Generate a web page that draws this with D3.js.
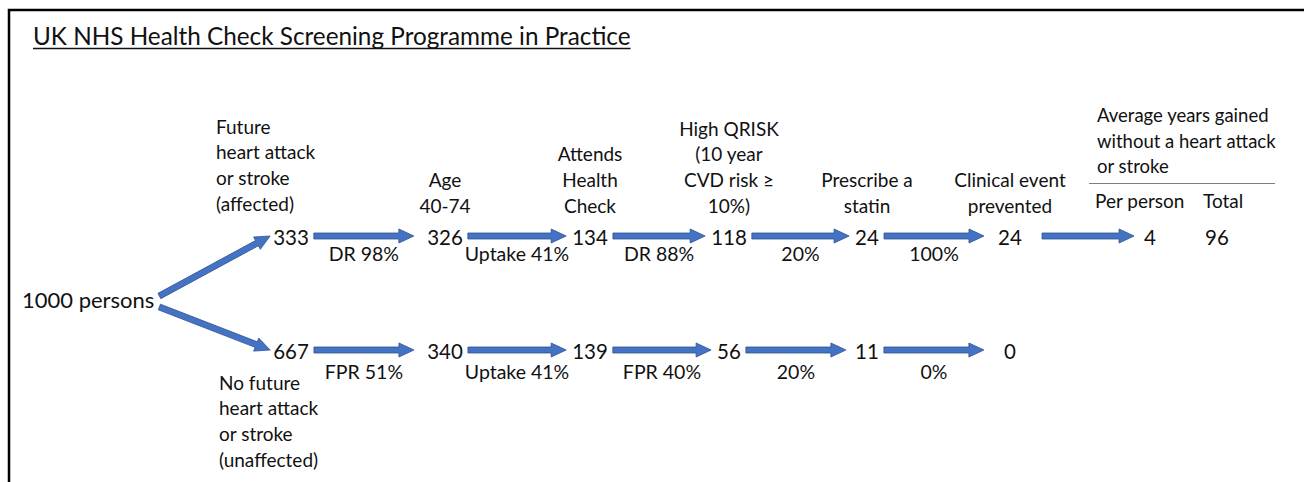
<!DOCTYPE html>
<html>
<head>
<meta charset="utf-8">
<script src="https://cdn.jsdelivr.net/npm/d3@7"></script>
<style>
  html, body { margin: 0; padding: 0; background: #fff; }
  svg { display: block; font-family: Lato, "Open Sans", sans-serif; }
</style>
</head>
<body>
<svg id="chart" width="1304" height="482"></svg>
<script>
'use strict';

/* UK NHS Health Check screening flow — two branches, six stages */

const TITLE = 'UK NHS Health Check Screening Programme in Practice';
const TOTAL_LABEL = '1000 persons';

const stages = ['split', 'age', 'attends', 'qrisk', 'statin', 'prevented'];
const stageHeaders = [
  [],
  ['Age', '40-74'],
  ['Attends', 'Health', 'Check'],
  ['High QRISK', '(10 year', 'CVD risk \u2265', '10%)'],
  ['Prescribe a', 'statin'],
  ['Clinical event', 'prevented'],
];

const affectedLabel   = ['Future', 'heart attack', 'or stroke', '(affected)'];
const unaffectedLabel = ['No future', 'heart attack', 'or stroke', '(unaffected)'];

const affectedCounts   = [333, 326, 134, 118, 24, 24];
const unaffectedCounts = [667, 340, 139, 56, 11, 0];
const affectedRates    = ['DR 98%', 'Uptake 41%', 'DR 88%', '20%', '100%'];
const unaffectedRates  = ['FPR 51%', 'Uptake 41%', 'FPR 40%', '20%', '0%'];

const yearsHeader = ['Average years gained', 'without a heart attack', 'or stroke'];
const yearsCols   = ['Per person', 'Total'];
const yearsValues = [4, 96];

const ARROW_FILL   = '#4472c4';
const ARROW_STROKE = '#2f528f';
const TEXT         = '#111';

const FS_NUM  = 20.5;   // counts
const FS_RATE = 19.5;   // arrow labels
const FS_HEAD = 19;     // stage headers

const svg = d3.select('#chart');

// layout scales
const x = d3.scaleOrdinal().domain(stages).range([291, 445, 590, 729, 867, 1010]);
const y = d3.scalePoint().domain(['affected', 'unaffected']).range([238, 352]);
const yearsX = d3.scaleOrdinal().domain(yearsCols).range([1095, 1203]);

// block-arrow outline from (x0,y0) to tip (x1,y1)
function arrowPath(x0, y0, x1, y1) {
  const dx = x1 - x0, dy = y1 - y0;
  const len = Math.hypot(dx, dy) || 1;
  const ux = dx / len, uy = dy / len;
  const nx = -uy, ny = ux;
  const sw = 3, hw = 7, hl = 15;
  const bx = x1 - ux * hl, by = y1 - uy * hl;
  const pts = [
    [x0 + nx * sw, y0 + ny * sw],
    [bx + nx * sw, by + ny * sw],
    [bx + nx * hw, by + ny * hw],
    [x1, y1],
    [bx - nx * hw, by - ny * hw],
    [bx - nx * sw, by - ny * sw],
    [x0 - nx * sw, y0 - ny * sw],
  ];
  return d3.line()(pts) + 'Z';
}

function drawArrow(g, x0, y0, x1, y1) {
  g.append('path')
    .attr('d', arrowPath(x0, y0, x1, y1))
    .attr('fill', ARROW_FILL)
    .attr('stroke', ARROW_STROKE)
    .attr('stroke-width', 0.8);
}

// multi-line text block, last line centred at yBottom
function textBlock(g, lines, tx, yBottom, anchor, size) {
  const lh = 25.6;
  const t = g.append('text')
    .attr('text-anchor', anchor)
    .attr('font-size', size)
    .attr('fill', TEXT);
  lines.forEach((l, i) => {
    t.append('tspan')
      .attr('x', tx)
      .attr('y', yBottom - (lines.length - 1 - i) * lh)
      .attr('dy', '0.35em')
      .text(l);
  });
  return t;
}

// frame (top and left edges only)
svg.append('path')
  .attr('d', 'M9,482V10H1304')
  .attr('fill', 'none')
  .attr('stroke', '#000')
  .attr('stroke-width', 2.5);

// title
const title = svg.append('text')
  .attr('x', 33).attr('y', 36).attr('dy', '0.35em')
  .attr('font-size', 24.3)
  .attr('fill', TEXT)
  .text(TITLE);
const tb = title.node().getBBox();
svg.append('line')
  .attr('x1', tb.x).attr('x2', tb.x + tb.width)
  .attr('y1', 48.5).attr('y2', 48.5)
  .attr('stroke', TEXT).attr('stroke-width', 1.5);

const arrows = svg.append('g');
const labels = svg.append('g');

// root
const root = labels.append('text')
  .attr('x', 22).attr('y', 300).attr('dy', '0.35em')
  .attr('font-size', 22).attr('fill', TEXT)
  .text(TOTAL_LABEL);
const rootBox = root.node().getBBox();

// stage headers above the affected row
stages.forEach((s, i) => {
  if (stageHeaders[i].length) textBlock(labels, stageHeaders[i], x(s), 206, 'middle', FS_HEAD);
});
textBlock(labels, affectedLabel, 216, 204, 'start', FS_HEAD);
textBlock(labels, unaffectedLabel, 219, 460, 'start', FS_HEAD);

// rows of counts + arrows between them
const rows = [
  { key: 'affected',   counts: affectedCounts,   rates: affectedRates,   rateDy: 16 },
  { key: 'unaffected', counts: unaffectedCounts, rates: unaffectedRates, rateDy: 20 },
];

rows.forEach(row => {
  const ry = y(row.key);
  const boxes = row.counts.map((v, i) => {
    const t = labels.append('text')
      .attr('x', x(stages[i])).attr('y', ry).attr('dy', '0.35em')
      .attr('text-anchor', 'middle')
      .attr('font-size', FS_NUM).attr('fill', TEXT)
      .text(v);
    return t.node().getBBox();
  });

  // split arrow from root
  const b0 = boxes[0];
  drawArrow(arrows, rootBox.x + rootBox.width + 5, row.key === 'affected' ? ry + 58 : ry - 45,
            b0.x - 3, ry - 2);

  row.rates.forEach((r, i) => {
    const a = boxes[i], b = boxes[i + 1];
    const x0 = a.x + a.width + 5;
    const x1 = Math.min(b.x - 6, x0 + 100);
    drawArrow(arrows, x0, ry - 2, x1, ry - 2);
    labels.append('text')
      .attr('x', (x0 + x1) / 2).attr('y', ry + row.rateDy).attr('dy', '0.35em')
      .attr('text-anchor', 'middle')
      .attr('font-size', FS_RATE).attr('fill', TEXT)
      .text(r);
  });

  // years gained, affected row only
  if (row.key === 'affected') {
    const last = boxes[boxes.length - 1];
    textBlock(labels, yearsHeader, yearsX(yearsCols[0]) + 2, 167, 'start', 18.5);
    svg.append('line')
      .attr('x1', 1089).attr('x2', 1275)
      .attr('y1', 183.5).attr('y2', 183.5)
      .attr('stroke', '#7f7f7f').attr('stroke-width', 1);
    yearsCols.forEach(c => {
      labels.append('text')
        .attr('x', yearsX(c)).attr('y', 201).attr('dy', '0.35em')
        .attr('font-size', FS_HEAD).attr('fill', TEXT)
        .text(c);
    });
    const pp = labels.append('text')
      .attr('x', yearsX(yearsCols[0]) + 55).attr('y', ry).attr('dy', '0.35em')
      .attr('text-anchor', 'middle')
      .attr('font-size', FS_NUM).attr('fill', TEXT)
      .text(yearsValues[0]);
    labels.append('text')
      .attr('x', yearsX(yearsCols[1]) + 2).attr('y', ry).attr('dy', '0.35em')
      .attr('font-size', FS_NUM).attr('fill', TEXT)
      .text(yearsValues[1]);
    const pb = pp.node().getBBox();
    drawArrow(arrows, last.x + last.width + 20, ry - 2, pb.x - 10, ry - 2);
  }
});
</script>
</body>
</html>
